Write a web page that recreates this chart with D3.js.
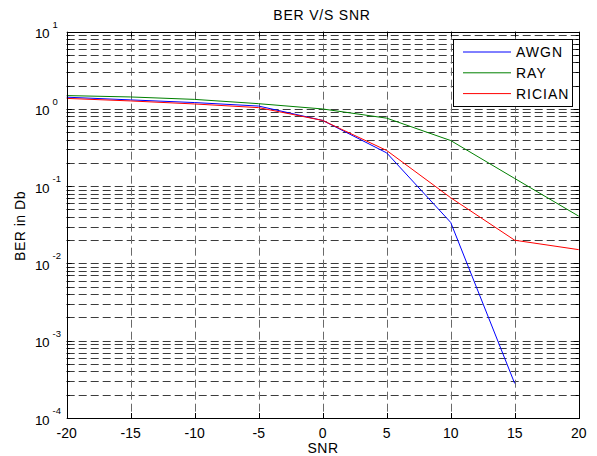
<!DOCTYPE html>
<html><head><meta charset="utf-8">
<script src="https://cdn.jsdelivr.net/npm/d3@7"></script>
<style>
html,body{margin:0;padding:0;background:#fff;}
svg text{font-family:"Liberation Sans",Arial,sans-serif;fill:#000;}
</style></head>
<body><svg id="c" width="597" height="456"></svg>
<script>
const snr = [-20,-15,-10,-5,0,5,10,15,20];
const awgn = [1.42,1.31,1.21,1.09,0.71,0.27,0.034,0.00028];
const ray = [1.49,1.43,1.33,1.17,1.0,0.76,0.39,0.126,0.041];
const rician = [1.37,1.27,1.16,1.04,0.71,0.29,0.071,0.020,0.0151];
const xTicks = [-20,-15,-10,-5,0,5,10,15,20];
const yExps = [-4,-3,-2,-1,0,1];
const seriesNames = ["AWGN","RAY","RICIAN"];
const seriesColors = ["#0000ff","#008000","#ff0000"];
const seriesData = [awgn, ray, rician];

const svg = d3.select("#c");
const L=66.7,R=578.7,T=31.7,B=418;
const x = d3.scaleLinear().domain([-20,20]).range([L,R]);
const y = d3.scaleLog().domain([1e-4,10]).range([B,T]);

const yAll=[];
for(let e=-4;e<1;e++){for(let m=1;m<10;m++){yAll.push(m*Math.pow(10,e));}}
yAll.push(10);

const grid = svg.append("g").attr("stroke","#3c3c3c").attr("stroke-width",1).attr("stroke-dasharray","8,4").attr("fill","none");
yAll.forEach(v=>{ const yy=Math.round(y(v))+0.5; if(v>1e-4 && v<10) grid.append("line").attr("x1",L).attr("x2",R).attr("y1",yy).attr("y2",yy);});
xTicks.forEach(v=>{ const xx=Math.round(x(v))+0.5; if(v>-20&&v<20) grid.append("line").attr("x1",xx).attr("x2",xx).attr("y1",T).attr("y2",B).attr("stroke","#6a6a6a");});

const tk = svg.append("g").attr("stroke","#000").attr("stroke-width",1);
xTicks.forEach(v=>{const xx=Math.round(x(v))+0.5;
  tk.append("line").attr("x1",xx).attr("x2",xx).attr("y1",B).attr("y2",B-5);
  tk.append("line").attr("x1",xx).attr("x2",xx).attr("y1",T).attr("y2",T+5);});
yAll.forEach(v=>{const yy=Math.round(y(v))+0.5; const len=(Math.abs(Math.log10(v)-Math.round(Math.log10(v)))<1e-9)?5:3;
  tk.append("line").attr("x1",L).attr("x2",L+len).attr("y1",yy).attr("y2",yy);
  tk.append("line").attr("x1",R).attr("x2",R-len).attr("y1",yy).attr("y2",yy);});

const line = d3.line().x((d,i)=>x(snr[i])).y(d=>y(d));
seriesData.forEach((s,k)=>{
  svg.append("path").datum(s).attr("d",line).attr("fill","none").attr("stroke",seriesColors[k]).attr("stroke-width",1);
});

svg.append("rect").attr("x",Math.round(L)+0.5).attr("y",Math.round(T)+0.5).attr("width",Math.round(R)-Math.round(L)).attr("height",Math.round(B)-Math.round(T)).attr("fill","none").attr("stroke","#000").attr("stroke-width",1);

svg.selectAll(".xl").data(xTicks).enter().append("text").attr("x",d=>x(d)).attr("y",438).attr("text-anchor","middle").attr("font-size",14).text(d=>d);

yExps.forEach(e=>{
  const yy=y(Math.pow(10,e));
  svg.append("text").attr("x",49).attr("y",yy+6.5).attr("text-anchor","end").attr("font-size",13.5).attr("letter-spacing",-0.5).text("10");
  svg.append("text").attr("x",52.5).attr("y",yy-4).attr("font-size",9.5).text(e);
});

svg.append("text").attr("x",322).attr("y",20).attr("text-anchor","middle").attr("font-size",14).attr("letter-spacing",0.8).text("BER V/S SNR");
svg.append("text").attr("x",323).attr("y",453).attr("text-anchor","middle").attr("font-size",14).attr("letter-spacing",0.5).text("SNR");
svg.append("text").attr("transform","translate(25,226) rotate(-90)").attr("text-anchor","middle").attr("font-size",14).attr("letter-spacing",0.5).text("BER in Db");

const lg = svg.append("g");
lg.append("rect").attr("x",453.5).attr("y",39.5).attr("width",119).attr("height",67).attr("fill","#fff").attr("stroke","#000");
seriesNames.forEach((n,i)=>{
  const yy=52+i*20.8;
  lg.append("line").attr("x1",463).attr("x2",511).attr("y1",yy).attr("y2",yy).attr("stroke",seriesColors[i]);
  lg.append("text").attr("x",516).attr("y",yy+5).attr("font-size",14).attr("letter-spacing",1).text(n);
});
</script></body></html>
